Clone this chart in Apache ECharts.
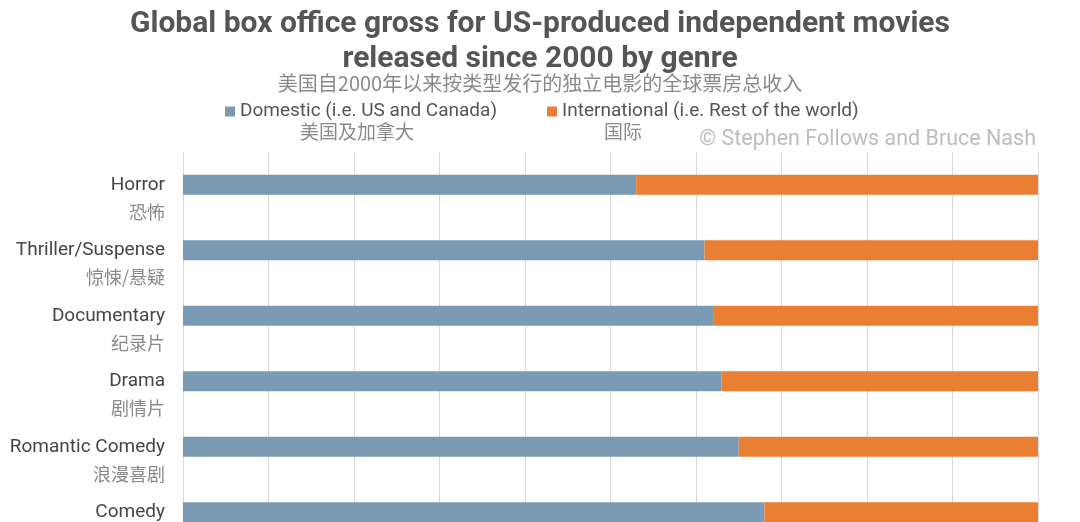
<!DOCTYPE html>
<html>
<head>
<meta charset="utf-8">
<script src="https://cdn.jsdelivr.net/npm/echarts@6/dist/echarts.min.js"></script>
<style>
html,body{margin:0;padding:0;background:#fff;}
#c{width:1080px;height:522px;}
</style>
</head>
<body>
<div id="c"></div>
<script>
const categoriesEn = ['Horror', 'Thriller/Suspense', 'Documentary', 'Drama', 'Romantic Comedy', 'Comedy'];
const categoriesZh = ['恐怖', '惊悚/悬疑', '纪录片', '剧情片', '浪漫喜剧', '喜剧'];
const domestic = [53, 61, 62, 63, 65, 68];
const international = [47, 39, 38, 37, 35, 32];
const seriesNames = ['Domestic (i.e. US and Canada)', 'International (i.e. Rest of the world)'];
const seriesNamesZh = ['美国及加拿大', '国际'];
const titleText = 'Global box office gross for US-produced independent movies\nreleased since 2000 by genre';
const subtitleText = '美国自2000年以来按类型发行的独立电影的全球票房总收入';
const creditText = '© Stephen Follows and Bruce Nash';

const chart = echarts.init(document.getElementById('c'));
const FONT = 'Roboto, "Noto Sans CJK SC", sans-serif';
chart.setOption({
  backgroundColor: '#ffffff',
  animation: false,
  title: {
    text: titleText,
    left: 'center',
    top: 2,
    textStyle: { fontFamily: FONT, fontWeight: 'bold', fontSize: 30, lineHeight: 35, color: '#555555' }
  },
  legend: {
    top: 97,
    left: 220,
    itemWidth: 10,
    itemHeight: 10,
    itemGap: 50,
    icon: 'rect',
    textStyle: { fontFamily: FONT, fontSize: 19, color: '#555555' },
    data: seriesNames
  },
  graphic: [
    { type: 'text', left: 'center', top: 73, style: { text: subtitleText, font: '20px "Noto Sans CJK SC"', fill: '#8a8a8a' } },
    { type: 'text', left: 300, top: 122, style: { text: seriesNamesZh[0], font: '19px "Noto Sans CJK SC"', fill: '#8a8a8a' } },
    { type: 'text', left: 604, top: 122, style: { text: seriesNamesZh[1], font: '19px "Noto Sans CJK SC"', fill: '#8a8a8a' } },
    { type: 'text', right: 44, top: 129, style: { text: creditText, font: '21.5px Roboto', fill: '#bdbdbd' } }
  ],
  grid: { left: 183, right: 42, top: 152, height: 393, containLabel: false, outerBoundsMode: 'none' },
  xAxis: {
    type: 'value', min: 0, max: 100, interval: 10,
    axisLabel: { show: false }, axisLine: { show: false }, axisTick: { show: false },
    splitLine: { show: true, lineStyle: { color: '#d9d9d9', width: 1 } }
  },
  yAxis: {
    type: 'category', inverse: true, data: categoriesEn,
    axisLine: { show: false }, axisTick: { show: false },
    axisLabel: {
      margin: 18,
      interval: 0,
      showMinLabel: true,
      showMaxLabel: true,
      hideOverlap: false,
      formatter: function (v, i) {
        return '{zh|　}\n{en|' + v + '}\n{zh|' + categoriesZh[i] + '}';
      },
      rich: {
        en: { fontFamily: FONT, fontSize: 19, color: '#454545', lineHeight: 27, align: 'right' },
        zh: { fontFamily: '"Noto Sans CJK SC"', fontSize: 18, color: '#8a8a8a', lineHeight: 27, align: 'right' }
      }
    }
  },
  series: [
    { name: seriesNames[0], type: 'bar', stack: 'total', data: domestic, barWidth: 20, itemStyle: { color: '#7a9ab4' } },
    { name: seriesNames[1], type: 'bar', stack: 'total', data: international, barWidth: 20, itemStyle: { color: '#e97f33' } }
  ]
});
</script>
</body>
</html>
